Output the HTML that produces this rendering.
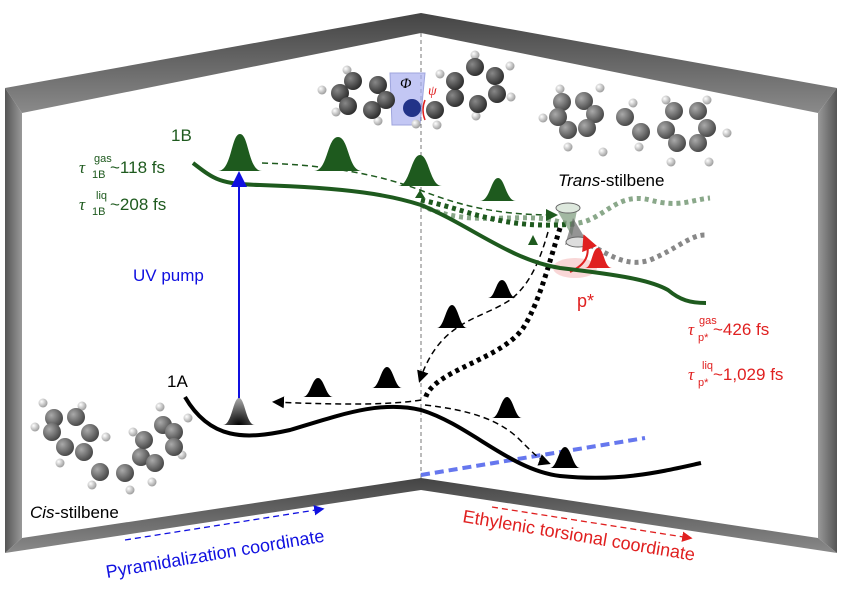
<!DOCTYPE html>
<html><head><meta charset="utf-8"><style>
html,body{margin:0;padding:0;background:#fff;}
svg{display:block;font-family:"Liberation Sans",sans-serif;}
</style></head><body>
<svg width="842" height="590" viewBox="0 0 842 590" xmlns="http://www.w3.org/2000/svg">
<defs>
<linearGradient id="bar" x1="0" y1="0" x2="0" y2="1"><stop offset="0" stop-color="#444"/><stop offset="1" stop-color="#8a8a8a"/></linearGradient>
<linearGradient id="wall" x1="0" y1="0" x2="1" y2="0"><stop offset="0" stop-color="#555"/><stop offset="1" stop-color="#999"/></linearGradient>
<linearGradient id="wallr" x1="1" y1="0" x2="0" y2="0"><stop offset="0" stop-color="#555"/><stop offset="1" stop-color="#999"/></linearGradient>
<radialGradient id="c" cx="0.35" cy="0.35" r="0.7"><stop offset="0" stop-color="#888"/><stop offset="1" stop-color="#2a2a2a"/></radialGradient>
<radialGradient id="c2" cx="0.35" cy="0.35" r="0.7"><stop offset="0" stop-color="#aaa"/><stop offset="1" stop-color="#444"/></radialGradient>
<radialGradient id="h" cx="0.35" cy="0.35" r="0.7"><stop offset="0" stop-color="#fff"/><stop offset="1" stop-color="#999"/></radialGradient>
<radialGradient id="pk" cx="0.5" cy="1" r="1"><stop offset="0" stop-color="#000"/><stop offset="1" stop-color="#aaa"/></radialGradient>
<marker id="ab" markerWidth="8" markerHeight="8" refX="6" refY="4" orient="auto"><path d="M0,0L8,4L0,8z" fill="#000"/></marker>
<marker id="ag" markerWidth="8" markerHeight="8" refX="6" refY="4" orient="auto"><path d="M0,0L8,4L0,8z" fill="#1e5a1e"/></marker>
<marker id="abl" markerWidth="8" markerHeight="8" refX="6" refY="4" orient="auto"><path d="M0,0L8,4L0,8z" fill="#1010e0"/></marker>
<marker id="ar" markerWidth="8" markerHeight="8" refX="6" refY="4" orient="auto"><path d="M0,0L8,4L0,8z" fill="#e02020"/></marker>
</defs>
<polygon points="5,88 421,13 421,33 22,113" fill="url(#bar)"/>
<polygon points="421,13 837,88 818,113 421,33" fill="url(#bar)"/>
<polygon points="5,88 22,113 22,538 5,553" fill="url(#wall)"/>
<polygon points="837,88 818,113 818,538 837,553" fill="url(#wallr)"/>
<polygon points="22,538 421,478 421,490 5,553" fill="url(#bar)"/>
<polygon points="421,478 818,538 837,553 421,490" fill="url(#bar)"/>
<line x1="421" y1="33" x2="421" y2="478" stroke="#777" stroke-width="1" stroke-dasharray="4,3"/>
<line x1="421" y1="475" x2="645" y2="438" stroke="#6677ee" stroke-width="4" stroke-dasharray="9,5"/>

<polygon points="390,73 425,73 420,125 392,125" fill="#aab0f0" opacity="0.7" stroke="#7780d0"/>
<g fill="url(#h)"><circle cx="322" cy="90" r="4.5"/><circle cx="347" cy="70" r="4.5"/><circle cx="378" cy="121" r="4.5"/><circle cx="336" cy="112" r="4.5"/><circle cx="416" cy="124" r="4.5"/><circle cx="437" cy="125" r="4.5"/><circle cx="475" cy="55" r="4.5"/><circle cx="510" cy="66" r="4.5"/><circle cx="511" cy="97" r="4.5"/><circle cx="476" cy="116" r="4.5"/><circle cx="440" cy="74" r="4.5"/></g>
<g fill="url(#c)"><circle cx="340" cy="93" r="9"/><circle cx="353" cy="81" r="9"/><circle cx="378" cy="85" r="9"/><circle cx="386" cy="100" r="9"/><circle cx="372" cy="110" r="9"/><circle cx="348" cy="106" r="9"/><circle cx="435" cy="110" r="9"/><circle cx="455" cy="98" r="9"/><circle cx="455" cy="81" r="9"/><circle cx="475" cy="67" r="9"/><circle cx="495" cy="76" r="9"/><circle cx="497" cy="94" r="9"/><circle cx="478" cy="104" r="9"/></g>
<circle cx="412" cy="108" r="9" fill="#223388"/>
<text x="400" y="88" font-size="15" font-style="italic" font-family="Liberation Serif,serif">Φ</text>
<text x="428" y="95" font-size="14" font-style="italic" fill="#e02020" font-family="Liberation Serif,serif">ψ</text>
<path d="M425,100 q-4,10 0,20" fill="none" stroke="#e02020" stroke-width="1.5"/>

<g fill="url(#h)"><circle cx="560" cy="89" r="4.5"/><circle cx="600" cy="88" r="4.5"/><circle cx="543" cy="118" r="4.5"/><circle cx="568" cy="147" r="4.5"/><circle cx="633" cy="103" r="4.5"/><circle cx="639" cy="147" r="4.5"/><circle cx="666" cy="100" r="4.5"/><circle cx="707" cy="100" r="4.5"/><circle cx="727" cy="133" r="4.5"/><circle cx="709" cy="162" r="4.5"/><circle cx="671" cy="162" r="4.5"/><circle cx="603" cy="152" r="4.5"/></g>
<g fill="url(#c2)"><circle cx="562" cy="102" r="9"/><circle cx="584" cy="101" r="9"/><circle cx="595" cy="114" r="9"/><circle cx="587" cy="128" r="9"/><circle cx="568" cy="130" r="9"/><circle cx="558" cy="117" r="9"/><circle cx="625" cy="117" r="9"/><circle cx="641" cy="132" r="9"/><circle cx="666" cy="130" r="9"/><circle cx="674" cy="111" r="9"/><circle cx="698" cy="111" r="9"/><circle cx="707" cy="128" r="9"/><circle cx="698" cy="143" r="9"/><circle cx="677" cy="143" r="9"/></g>
<text x="558" y="186" font-size="17"><tspan font-style="italic">Trans</tspan>-stilbene</text>

<g fill="url(#h)"><circle cx="43" cy="403" r="4.5"/><circle cx="82" cy="406" r="4.5"/><circle cx="35" cy="427" r="4.5"/><circle cx="106" cy="437" r="4.5"/><circle cx="60" cy="463" r="4.5"/><circle cx="92" cy="485" r="4.5"/><circle cx="130" cy="490" r="4.5"/><circle cx="160" cy="407" r="4.5"/><circle cx="188" cy="418" r="4.5"/><circle cx="182" cy="455" r="4.5"/><circle cx="152" cy="482" r="4.5"/><circle cx="133" cy="432" r="4.5"/></g>
<g fill="url(#c2)"><circle cx="54" cy="418" r="9"/><circle cx="76" cy="417" r="9"/><circle cx="90" cy="433" r="9"/><circle cx="84" cy="452" r="9"/><circle cx="65" cy="447" r="9"/><circle cx="52" cy="432" r="9"/><circle cx="100" cy="472" r="9"/><circle cx="125" cy="473" r="9"/><circle cx="141" cy="457" r="9"/><circle cx="144" cy="440" r="9"/><circle cx="163" cy="425" r="9"/><circle cx="174" cy="432" r="9"/><circle cx="174" cy="447" r="9"/><circle cx="155" cy="463" r="9"/></g>
<text x="30" y="518" font-size="17"><tspan font-style="italic">Cis</tspan>-stilbene</text>

<path d="M421,205 C470,230 520,210 560,222 C600,232 610,190 650,200 C680,208 690,200 710,198" fill="none" stroke="#8aa88a" stroke-width="5" stroke-dasharray="4,4"/>
<path d="M575,240 C600,245 620,270 650,260 C675,250 690,235 705,235" fill="none" stroke="#888" stroke-width="5" stroke-dasharray="4,4"/>
<path d="M421,200 C470,210 500,230 575,224" fill="none" stroke="#1e5a1e" stroke-width="5" stroke-dasharray="4,4"/>
<path d="M560,228 C550,260 540,300 525,325 C505,360 430,370 425,400" fill="none" stroke="#000" stroke-width="5" stroke-dasharray="4,4"/>
<path d="M548,232 C540,260 530,285 510,300 C480,320 440,320 420,380" fill="none" stroke="#000" stroke-width="1.5" stroke-dasharray="6,4" marker-end="url(#ab)"/>
<path d="M262,163 C330,165 380,175 420,190 C470,210 510,215 555,215" fill="none" stroke="#1e5a1e" stroke-width="1.5" stroke-dasharray="6,4" marker-end="url(#ag)"/>
<path d="M558,212 L578,205 L572,236 Z" fill="#7a9a7a" opacity="0.7"/><ellipse cx="568" cy="208" rx="12" ry="5" fill="#dde8dd" stroke="#666"/>
<path d="M565,245 L585,238 L573,218 Z" fill="#666" opacity="0.7"/><ellipse cx="578" cy="242" rx="12" ry="5" fill="#ddd" stroke="#666"/>
<ellipse cx="575" cy="268" rx="22" ry="10" fill="#f4b0b0" opacity="0.5"/>
<path d="M570,272 C585,265 592,255 585,238" fill="none" stroke="#e02020" stroke-width="2" marker-end="url(#ar)"/>
<path d="M193,163 C215,180 220,184 260,185 C350,188 390,195 421,205 C470,225 510,260 560,268 C620,275 650,280 668,290 C680,300 690,303 706,303" fill="none" stroke="#1e5a1e" stroke-width="4"/>
<path d="M185,397 C210,440 245,440 290,430 C340,415 380,400 421,410 C470,425 510,470 560,476 C620,482 660,472 701,463" fill="none" stroke="#000" stroke-width="4"/>
<path d="M239,408 L239,175" stroke="#1010e0" stroke-width="2" marker-end="url(#abl)"/>
<path d="M421,400 C390,405 340,405 275,402" fill="none" stroke="#000" stroke-width="1.5" stroke-dasharray="6,4" marker-end="url(#ab)"/>
<path d="M425,405 C470,410 500,420 520,440 C535,455 540,460 548,463" fill="none" stroke="#000" stroke-width="1.5" stroke-dasharray="6,4" marker-end="url(#ab)"/>
<g fill="#1e5a1e">
<path d="M218,171 C232,171 231,134 240,134 C249,134 248,171 262,171Z"/>
<path d="M314,171 C328,171 327,137 338,137 C349,137 348,171 362,171Z"/>
<path d="M398,186 C410,186 411,155 420,155 C429,155 430,186 442,186Z"/>
<path d="M480,201 C490,201 491,178 498,178 C505,178 506,201 516,201Z"/>
<path d="M415,198 L420,190 L425,198Z"/><path d="M528,245 L533,235 L538,245Z"/>
</g>
<path d="M585,268 C592,268 592,248 598,248 C604,248 604,268 612,268Z" fill="#e02020"/>
<g fill="#000">
<path d="M437,328 C444,328 446,305 452,305 C458,305 460,328 467,328Z"/>
<path d="M488,298 C495,298 496,280 502,280 C508,280 509,298 516,298Z"/>
<path d="M303,397 C310,397 312,378 318,378 C324,378 326,397 333,397Z"/>
<path d="M372,388 C379,388 381,367 387,367 C393,367 395,388 402,388Z"/>
<path d="M492,418 C499,418 501,397 507,397 C513,397 515,418 522,418Z"/>
<path d="M550,468 C557,468 559,447 565,447 C571,447 573,468 580,468Z"/>
</g>
<path d="M223,425 C232,425 233,398 239,398 C245,398 246,425 255,425Z" fill="url(#pk)"/>
<text x="171" y="141" font-size="17" fill="#1e5a1e">1B</text>
<g fill="#1e5a1e" font-size="17"><text x="79" y="173"><tspan font-style="italic" font-family="Liberation Serif,serif">τ</tspan></text><text x="94" y="162" font-size="11">gas</text><text x="92" y="178" font-size="11">1B</text><text x="110" y="173">~118 fs</text>
<text x="79" y="210"><tspan font-style="italic" font-family="Liberation Serif,serif">τ</tspan></text><text x="96" y="199" font-size="11">liq</text><text x="92" y="215" font-size="11">1B</text><text x="110" y="210">~208 fs</text></g>
<text x="133" y="281" font-size="17" fill="#1010e0">UV pump</text>
<text x="167" y="387" font-size="17">1A</text>
<text x="577" y="307" font-size="18" fill="#e02020">p*</text>
<g fill="#e02020" font-size="17"><text x="688" y="335"><tspan font-style="italic" font-family="Liberation Serif,serif">τ</tspan></text><text x="699" y="324" font-size="11">gas</text><text x="698" y="341" font-size="11">p*</text><text x="713" y="335">~426 fs</text>
<text x="688" y="380"><tspan font-style="italic" font-family="Liberation Serif,serif">τ</tspan></text><text x="702" y="369" font-size="11">liq</text><text x="698" y="386" font-size="11">p*</text><text x="713" y="380">~1,029 fs</text></g>
<line x1="125" y1="540" x2="322" y2="509" stroke="#1010e0" stroke-width="1.3" stroke-dasharray="6,4" marker-end="url(#abl)"/>
<line x1="492" y1="507" x2="690" y2="538" stroke="#e02020" stroke-width="1.3" stroke-dasharray="6,4" marker-end="url(#ar)"/>
<text transform="translate(107,578) rotate(-9.5)" font-size="18" fill="#1010e0">Pyramidalization coordinate</text>
<text transform="translate(462,522) rotate(9.5)" font-size="18" fill="#e02020">Ethylenic torsional coordinate</text>
</svg>
</body></html>
